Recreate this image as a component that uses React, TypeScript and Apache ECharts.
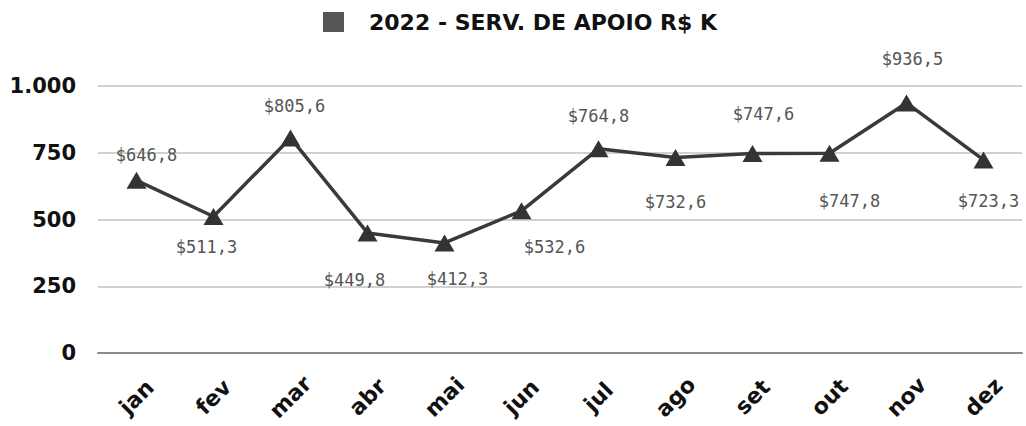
import React, { useEffect, useRef } from "react";
import * as echarts from "echarts";

const seriesName = "2022 - SERV. DE APOIO R$ K";
const months = ["jan", "fev", "mar", "abr", "mai", "jun", "jul", "ago", "set", "out", "nov", "dez"];
const values = [646.8, 511.3, 805.6, 449.8, 412.3, 532.6, 764.8, 732.6, 747.6, 747.8, 936.5, 723.3];
const yTicks = [0, 250, 500, 750, 1000];

const fmtThousands = (v: number) => String(v).replace(/\B(?=(\d{3})+(?!\d))/g, ".");
const fmtMoney = (v: number) => "$" + v.toFixed(1).replace(".", ",");

function buildOption() {
  // label placement (offset of label centre from the marker), in px
  const labelOffsets: [number, number][] = [
    [10, -25], [-7, 31], [4, -32], [-13, 47], [13, 36], [33, 36],
    [0, -33], [0, 45], [11, -39], [20, 48], [6, -44], [5, 41],
  ];
  return {
    animation: false,
    backgroundColor: "#ffffff",
    legend: {
      left: 318,
      top: 6,
      icon: "rect",
      itemWidth: 21,
      itemHeight: 20,
      itemGap: 0,
      selectedMode: false,
      textStyle: {
        fontFamily: "DejaVu Sans",
        fontWeight: "bold",
        fontSize: 22,
        color: "#111",
        padding: [0, 0, 0, 20],
      },
      data: [{ name: seriesName, itemStyle: { color: "#555" } }],
    },
    grid: { left: 98, right: 4, top: 86, bottom: 73, containLabel: false },
    xAxis: {
      type: "category",
      data: months,
      boundaryGap: true,
      axisTick: { show: false },
      axisLine: { show: true, lineStyle: { color: "#8a8a8a", width: 2 } },
      axisLabel: {
        rotate: 45,
        margin: 44,
        align: "center",
        verticalAlign: "middle",
        fontFamily: "DejaVu Sans",
        fontWeight: "bold",
        fontSize: 22,
        color: "#111",
        interval: 0,
      },
    },
    yAxis: {
      type: "value",
      min: yTicks[0],
      max: yTicks[yTicks.length - 1],
      interval: yTicks[1] - yTicks[0],
      axisLine: { show: false },
      axisTick: { show: false },
      splitLine: { lineStyle: { color: "#c2c2c2", width: 1.5 } },
      axisLabel: {
        margin: 22,
        fontFamily: "DejaVu Sans",
        fontWeight: "bold",
        fontSize: 21,
        color: "#111",
        formatter: (v: number) => fmtThousands(v),
      },
    },
    series: [
      {
        name: seriesName,
        type: "line",
        data: values.map((v, i) => ({
          value: v,
          label: { offset: labelOffsets[i] },
        })),
        symbol: "triangle",
        symbolSize: [20, 17],
        itemStyle: { color: "#333" },
        lineStyle: { color: "#3a3a3a", width: 3.5 },
        label: {
          show: true,
          position: "inside",
          align: "center",
          verticalAlign: "middle",
          fontFamily: "DejaVu Sans Mono",
          fontSize: 17,
          color: "#555",
          formatter: (p: any) => fmtMoney(p.value),
        },
      },
    ],
  };
}

export default function App() {
  const ref = useRef<HTMLDivElement>(null);
  useEffect(() => {
    if (!ref.current) return;
    const chart = echarts.init(ref.current, undefined, { renderer: "svg" });
    chart.setOption(buildOption() as any);
    return () => chart.dispose();
  }, []);
  return (
    <div
      ref={ref}
      style={{ position: "fixed", left: 0, top: 0, width: 1026, height: 426, background: "#fff" }}
    />
  );
}
